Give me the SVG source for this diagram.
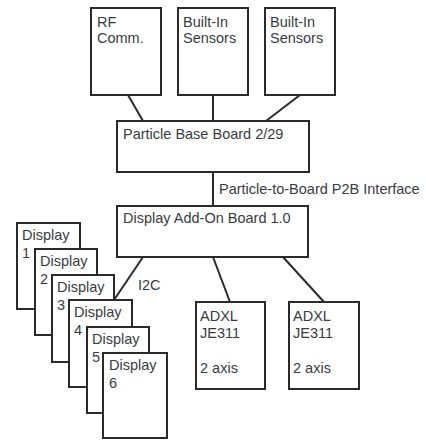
<svg xmlns="http://www.w3.org/2000/svg" width="426" height="441" viewBox="0 0 426 441">
<style>
.b{fill:#fff;stroke:#2a2a2a;stroke-width:2}
.t{font-family:"Liberation Sans",Arial,sans-serif;font-size:14.5px;fill:#383c42}
.c{stroke:#2a2a2a;stroke-width:2;fill:none}
</style>
<rect width="426" height="441" fill="#fff"/>
<g id="connectors">
<line class="c" x1="128" y1="95" x2="143" y2="121"/>
<line class="c" x1="213" y1="95" x2="213" y2="121"/>
<line class="c" x1="300" y1="95" x2="266" y2="121"/>
<line class="c" x1="213" y1="172" x2="213" y2="206"/>
<line class="c" x1="143" y1="257" x2="114" y2="300"/>
<line class="c" x1="213" y1="257" x2="230" y2="302"/>
<line class="c" x1="283" y1="257" x2="324" y2="302"/>
<text class="t" x="219" y="194">Particle-to-Board P2B Interface</text>
<text class="t" x="138" y="290">I2C</text>
</g>
<g id="rf"><rect class="b" x="91" y="8" width="70" height="87"/><text class="t" x="97" y="27">RF</text><text class="t" x="97" y="43">Comm.</text></g>
<g id="sensors1"><rect class="b" x="178" y="8" width="70" height="87"/><text class="t" x="183" y="27">Built-In</text><text class="t" x="183" y="43">Sensors</text></g>
<g id="sensors2"><rect class="b" x="265" y="8" width="70" height="87"/><text class="t" x="270" y="27">Built-In</text><text class="t" x="270" y="43">Sensors</text></g>
<g id="base"><rect class="b" x="117" y="121" width="192" height="51"/><text class="t" x="123" y="139">Particle Base Board 2/29</text></g>
<g id="addon"><rect class="b" x="117" y="206" width="191" height="51"/><text class="t" x="123" y="223">Display Add-On Board 1.0</text></g>
<g id="adxl1"><rect class="b" x="196" y="302" width="69" height="87"/><text class="t" x="200" y="321">ADXL</text><text class="t" x="200" y="338">JE311</text><text class="t" x="200" y="373">2 axis</text></g>
<g id="adxl2"><rect class="b" x="289" y="302" width="70" height="87"/><text class="t" x="293" y="321">ADXL</text><text class="t" x="293" y="338">JE311</text><text class="t" x="293" y="373">2 axis</text></g>
<g id="display1"><rect class="b" x="17" y="223" width="63" height="86"/><text class="t" x="22" y="240">Display</text><text class="t" x="22" y="258">1</text></g>
<g id="display2"><rect class="b" x="35" y="249" width="62" height="86"/><text class="t" x="40" y="266">Display</text><text class="t" x="40" y="284">2</text></g>
<g id="display3"><rect class="b" x="52" y="275" width="62" height="87"/><text class="t" x="57" y="292">Display</text><text class="t" x="57" y="310">3</text></g>
<g id="display4"><rect class="b" x="69" y="300" width="63" height="87"/><text class="t" x="74" y="317">Display</text><text class="t" x="74" y="335">4</text></g>
<g id="display5"><rect class="b" x="87" y="327" width="62" height="86"/><text class="t" x="92" y="344">Display</text><text class="t" x="92" y="362">5</text></g>
<g id="display6"><rect class="b" x="103" y="353" width="64" height="85"/><text class="t" x="109" y="370">Display</text><text class="t" x="109" y="388">6</text></g>
</svg>
